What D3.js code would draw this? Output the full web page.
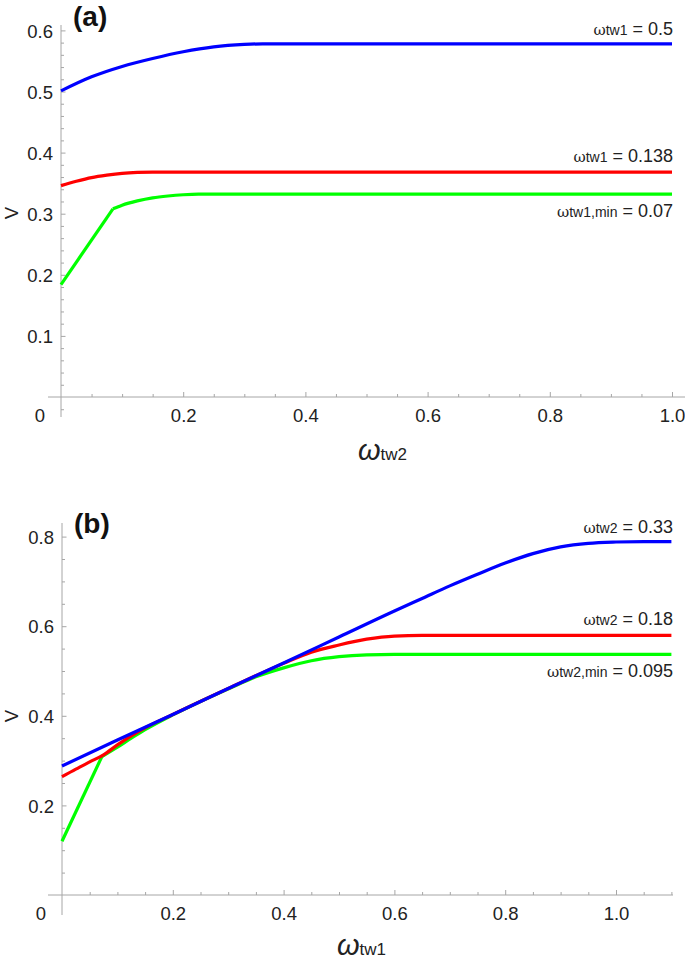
<!DOCTYPE html>
<html>
<head>
<meta charset="utf-8">
<script src="https://cdn.jsdelivr.net/npm/d3@7"></script>
<style>
  html, body { margin: 0; padding: 0; background: #fff; }
  svg { display: block; font-family: "Liberation Sans", Arial, sans-serif; }
</style>
</head>
<body>
<svg id="chart" width="685" height="961"></svg>
<script>
// ---------- Data ----------
// Panel (a): V vs omega_tw2
const aX_blue  = [0, 0.05, 0.1, 0.15, 0.2, 0.25, 0.3, 0.33, 0.5, 0.75, 1.0];
const aY_blue  = [0.501, 0.524, 0.541, 0.554, 0.565, 0.573, 0.577, 0.578, 0.578, 0.578, 0.578];
const aX_red   = [0, 0.025, 0.05, 0.075, 0.1, 0.125, 0.15, 0.5, 1.0];
const aY_red   = [0.346, 0.353, 0.359, 0.363, 0.366, 0.3675, 0.368, 0.368, 0.368];
const aX_green = [0, 0.085, 0.1, 0.125, 0.15, 0.175, 0.2, 0.225, 0.5, 1.0];
const aY_green = [0.184, 0.308, 0.314, 0.321, 0.326, 0.329, 0.331, 0.332, 0.332, 0.332];
const aLabels  = [
  { sym: "ω", sub: "tw1", val: " = 0.5" },
  { sym: "ω", sub: "tw1", val: " = 0.138" },
  { sym: "ω", sub: "tw1,min", val: " = 0.07" }
];
const aXTicks = [0.2, 0.4, 0.6, 0.8, 1.0];
const aYTicks = [0.1, 0.2, 0.3, 0.4, 0.5, 0.6];

// Panel (b): V vs omega_tw1
const bX_blue  = [0, 0.1, 0.2, 0.3, 0.4, 0.5, 0.6, 0.65, 0.7, 0.75, 0.8, 0.85, 0.9, 0.95, 1.0, 1.05, 1.1];
const bY_blue  = [0.288, 0.346, 0.403, 0.461, 0.518, 0.576, 0.634, 0.662, 0.690, 0.716, 0.741, 0.762, 0.777, 0.785, 0.788, 0.789, 0.789];
const bX_red   = [0, 0.025, 0.05, 0.075, 0.1, 0.125, 0.15, 0.2, 0.3, 0.4, 0.45, 0.5, 0.55, 0.6, 0.65, 0.8, 1.1];
const bY_red   = [0.264, 0.281, 0.297, 0.313, 0.335, 0.355, 0.373, 0.403, 0.461, 0.517, 0.542, 0.558, 0.571, 0.578, 0.5795, 0.5795, 0.5795];
const bX_green = [0, 0.072, 0.1, 0.125, 0.15, 0.2, 0.25, 0.3, 0.35, 0.4, 0.45, 0.5, 0.55, 0.6, 0.8, 1.1];
const bY_green = [0.12, 0.309, 0.330, 0.350, 0.369, 0.402, 0.432, 0.460, 0.487, 0.507, 0.523, 0.532, 0.536, 0.537, 0.537, 0.537];
const bLabels  = [
  { sym: "ω", sub: "tw2", val: " = 0.33" },
  { sym: "ω", sub: "tw2", val: " = 0.18" },
  { sym: "ω", sub: "tw2,min", val: " = 0.095" }
];
const bXTicks = [0.2, 0.4, 0.6, 0.8, 1.0];
const bYTicks = [0.2, 0.4, 0.6, 0.8];

const colors = ["#0000ff", "#ff0000", "#00ff00"];

// ---------- Drawing ----------
const svg = d3.select("#chart");
const axisColor = "#a6a6a6";
const textColor = "#222";

function drawPanel(cfg) {
  const g = svg.append("g");
  const x = d3.scaleLinear().domain(cfg.xDomain).range(cfg.xRange);
  const y = d3.scaleLinear().domain(cfg.yDomain).range(cfg.yRange);

  // axis lines
  g.append("line").attr("x1", cfg.xLineFrom).attr("x2", cfg.xLineTo)
    .attr("y1", y(0)).attr("y2", y(0)).attr("stroke", axisColor).attr("stroke-width", 1);
  g.append("line").attr("x1", x(0)).attr("x2", x(0))
    .attr("y1", cfg.yLineFrom).attr("y2", cfg.yLineTo).attr("stroke", axisColor).attr("stroke-width", 1);

  const xMinor = g.append("g").attr("transform", `translate(0,${y(0)})`)
    .call(d3.axisBottom(x).tickValues(cfg.xMinor).tickSize(-3).tickFormat(""));
  const xMajor = g.append("g").attr("transform", `translate(0,${y(0)})`)
    .call(d3.axisBottom(x).tickValues(cfg.xTicks).tickSize(-5).tickPadding(17)
      .tickFormat(d3.format(".1f")));
  const yMinor = g.append("g").attr("transform", `translate(${x(0)},0)`)
    .call(d3.axisLeft(y).tickValues(cfg.yMinor).tickSize(-3).tickFormat(""));
  const yMajor = g.append("g").attr("transform", `translate(${x(0)},0)`)
    .call(d3.axisLeft(y).tickValues(cfg.yTicks).tickSize(-4.5).tickPadding(8)
      .tickFormat(d3.format(".1f")));
  [xMinor, xMajor, yMinor, yMajor].forEach(a => {
    a.select(".domain").remove();
    a.selectAll("line").attr("stroke", axisColor);
    a.selectAll("text").attr("fill", textColor).attr("font-size", 18.5)
      .attr("font-family", "'Liberation Sans', Arial, sans-serif");
  });
  xMajor.selectAll("text").attr("dy", null).attr("y", 25);
  yMajor.selectAll("text").attr("dy", "0.36em");

  // origin "0"
  g.append("text").attr("x", cfg.zeroX).attr("y", y(0) + 25).attr("text-anchor", "middle")
    .attr("font-size", 18.5).attr("fill", textColor).text("0");

  // curves
  const smooth = d3.line().x(d => x(d[0])).y(d => y(d[1])).curve(d3.curveMonotoneX);
  const straight = d3.line().x(d => x(d[0])).y(d => y(d[1])).curve(d3.curveLinear);
  const drawOrder = [2, 1, 0];
  drawOrder.forEach(i => {
    const s = cfg.series[i];
    const pts = s.xs.map((v, k) => [v, s.ys[k]]);
    if (s.linearFirst) {
      g.append("path").datum(pts.slice(0, 2)).attr("d", straight)
        .attr("fill", "none").attr("stroke", colors[i]).attr("stroke-width", 3.2);
      g.append("path").datum(pts.slice(1)).attr("d", smooth)
        .attr("fill", "none").attr("stroke", colors[i]).attr("stroke-width", 3.2);
    } else {
      g.append("path").datum(pts).attr("d", smooth)
        .attr("fill", "none").attr("stroke", colors[i]).attr("stroke-width", 3.2);
    }
  });

  // series labels
  cfg.labels.forEach((lb, i) => {
    const t = g.append("text").attr("x", 673).attr("y", cfg.labelY[i])
      .attr("text-anchor", "end").attr("fill", textColor);
    t.append("tspan").attr("font-size", 15).attr("font-family", "'DejaVu Serif', 'Liberation Serif', serif").text(lb.sym);
    t.append("tspan").attr("font-size", 14).text(lb.sub);
    t.append("tspan").attr("font-size", 18).text(lb.val);
  });

  // axis title
  const tt = g.append("text").attr("x", cfg.titleX).attr("y", y(0) + cfg.titleDy).attr("fill", textColor);
  tt.append("tspan").attr("font-size", 29).attr("font-style", "italic").text("ω");
  tt.append("tspan").attr("font-size", 17).text(cfg.titleSub);

  // V label
  g.append("text").attr("transform", `translate(${cfg.vPos[0]},${cfg.vPos[1]}) rotate(-90)`)
    .attr("text-anchor", "middle").attr("font-size", 18.5).attr("fill", textColor).text("V");

  // panel label
  g.append("text").attr("x", cfg.panelPos[0]).attr("y", cfg.panelPos[1])
    .attr("font-size", 28).attr("font-weight", "bold").attr("fill", "#111").text(cfg.panel);
}

drawPanel({
  xDomain: [0, 1], xRange: [61, 672],
  yDomain: [0, 0.6], yRange: [397, 30.4],
  xLineFrom: 48, xLineTo: 685, yLineFrom: 417, yLineTo: 25,
  xTicks: aXTicks, yTicks: aYTicks,
  xMinor: d3.range(1, 20).map(k => k * 0.05).filter(v => Math.abs(v * 5 - Math.round(v * 5)) > 1e-6),
  yMinor: d3.range(-1, 30).map(k => k * 0.02).filter(v => Math.abs(v * 10 - Math.round(v * 10)) > 1e-6),
  zeroX: 40,
  series: [
    { xs: aX_blue, ys: aY_blue },
    { xs: aX_red, ys: aY_red },
    { xs: aX_green, ys: aY_green, linearFirst: true }
  ],
  labels: aLabels, labelY: [35, 162, 217],
  titleX: 358, titleSub: "tw2", titleDy: 63,
  vPos: [18, 213], panelPos: [73, 26], panel: "(a)"
});

drawPanel({
  xDomain: [0, 1.1], xRange: [62, 671.4],
  yDomain: [0, 0.8], yRange: [895, 536.6],
  xLineFrom: 48, xLineTo: 673, yLineFrom: 915, yLineTo: 523,
  xTicks: bXTicks, yTicks: bYTicks,
  xMinor: d3.range(1, 23).map(k => k * 0.05).filter(v => Math.abs(v * 5 - Math.round(v * 5)) > 1e-6),
  yMinor: d3.range(1, 17).map(k => k * 0.05).filter(v => Math.abs(v * 5 - Math.round(v * 5)) > 1e-6),
  zeroX: 41,
  series: [
    { xs: bX_blue, ys: bY_blue },
    { xs: bX_red, ys: bY_red },
    { xs: bX_green, ys: bY_green, linearFirst: true }
  ],
  labels: bLabels, labelY: [533, 625, 677],
  titleX: 337, titleSub: "tw1", titleDy: 60,
  vPos: [18, 716], panelPos: [74, 533], panel: "(b)"
});
</script>
</body>
</html>
